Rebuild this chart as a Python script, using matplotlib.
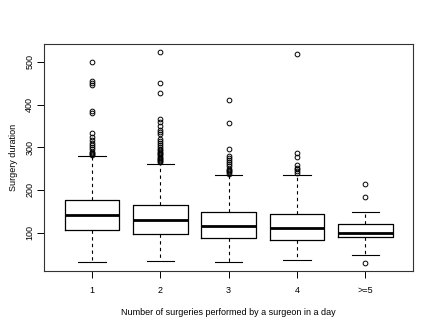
import matplotlib
matplotlib.use("Agg")
import matplotlib.pyplot as plt

plt.rcParams['font.family'] = ['Liberation Sans', 'DejaVu Sans']

categories = ["1", "2", "3", "4", ">=5"]
q1 = [106, 97, 88, 84, 89]
medians = [141, 129, 116, 110, 99]
q3 = [177, 164, 148, 144, 120]
whislo = [32, 34, 31, 35, 48]
whishi = [279, 261, 235, 236, 148]
fliers = [
    [500, 455, 450, 445, 385, 380, 333, 325, 318, 310, 305, 300, 295, 290, 287, 284, 282],
    [522, 450, 427, 365, 360, 350, 340, 335, 330, 320, 315, 310, 305, 300, 297, 294,
     290, 287, 284, 281, 278, 275, 272, 270, 268, 265],
    [410, 357, 297, 280, 275, 270, 265, 260, 255, 250, 247, 244, 241, 238],
    [518, 287, 278, 258, 252, 248, 244, 240],
    [214, 183, 30],
]
yticks = [100, 200, 300, 400, 500]

stats = []
for i, c in enumerate(categories):
    stats.append(dict(label=c, q1=q1[i], med=medians[i], q3=q3[i],
                      whislo=whislo[i], whishi=whishi[i], fliers=fliers[i]))

fig = plt.figure(figsize=(4.36, 3.27), dpi=100)
ax = fig.add_axes([44/436, 1-271/327, (413-44)/436, (271-44)/327])

positions = list(range(1, len(categories)+1))
ax.bxp(stats, positions=positions, widths=0.8,
       boxprops=dict(color='black', linewidth=0.9),
       medianprops=dict(color='black', linewidth=2.0, solid_capstyle='butt'),
       whiskerprops=dict(color='black', linewidth=0.8, linestyle=(0, (3, 3))),
       capprops=dict(color='black', linewidth=0.8),
       capwidths=0.4,
       flierprops=dict(marker='o', markersize=3.4, markerfacecolor='none',
                       markeredgecolor='black', markeredgewidth=0.7))

fs = 6.5
ax.set_xlim(0.3, 5.7)
ax.set_ylim(10.3, 541.7)
ax.set_yticks(yticks)
ax.set_yticklabels([str(v) for v in yticks], rotation=90, va='center', fontsize=fs)
ax.set_xticks(positions)
ax.set_xticklabels(categories, fontsize=fs)
ax.tick_params(axis='both', direction='out', length=5, width=0.7)
ax.tick_params(axis='x', pad=5.5)
ax.tick_params(axis='y', pad=2)
for s in ax.spines.values():
    s.set_linewidth(0.8)
    s.set_color('#333333')

ax.set_xlabel("Number of surgeries performed by a surgeon in a day", fontsize=fs, labelpad=10)
ax.set_ylabel("Surgery duration", fontsize=fs, labelpad=5)

fig.savefig("out.png", dpi=100)
